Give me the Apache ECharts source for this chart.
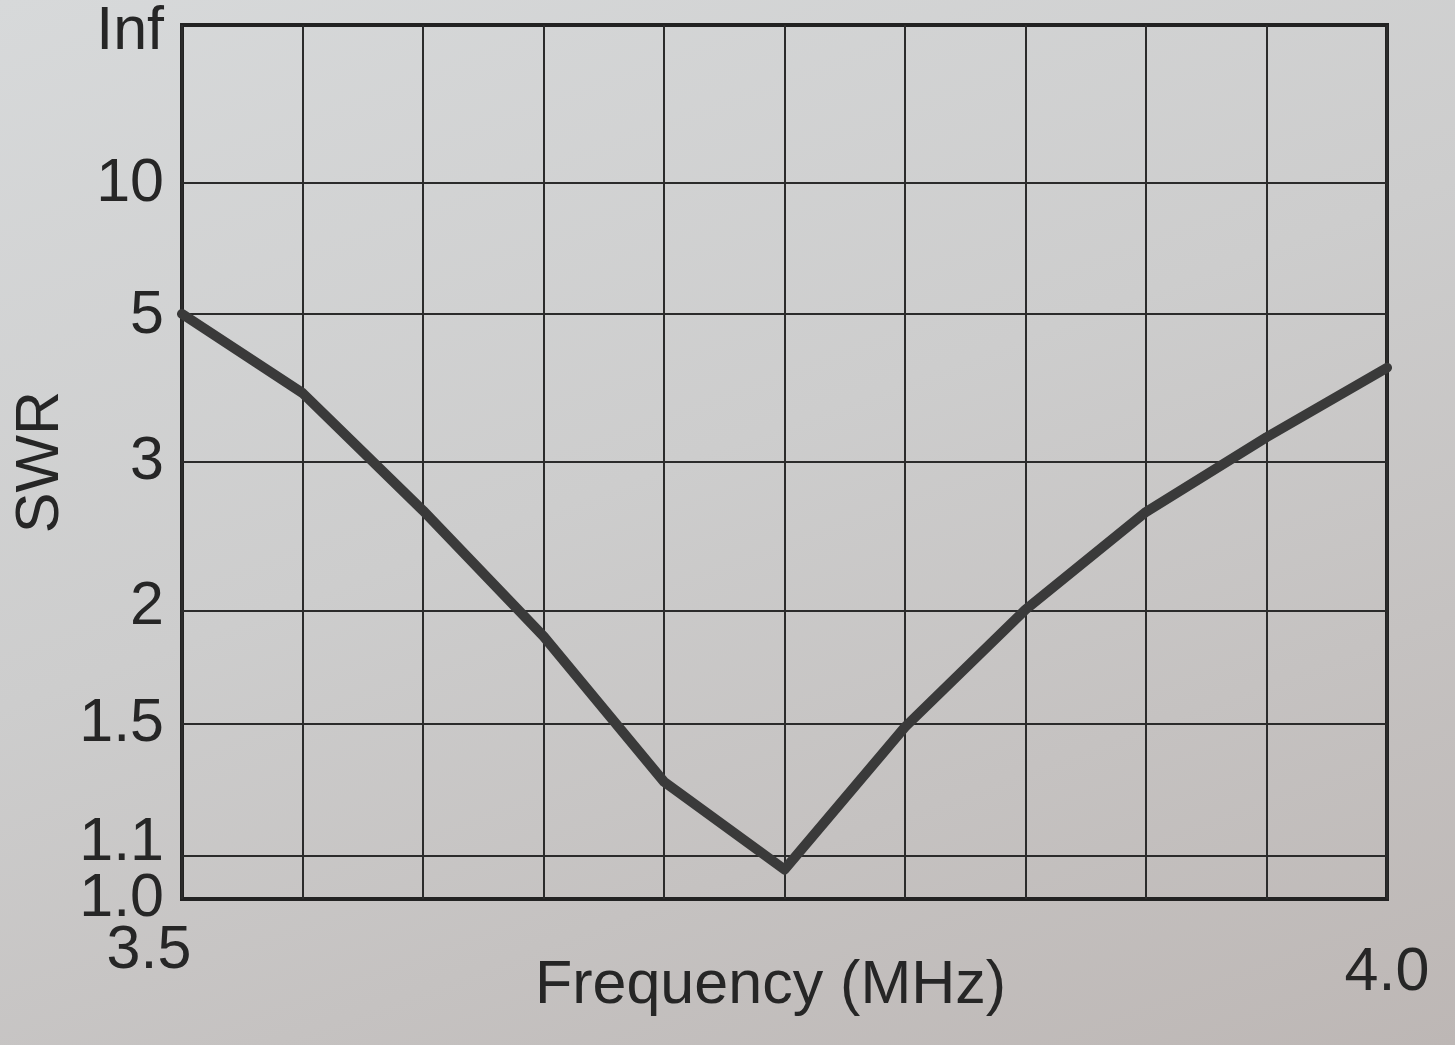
<!DOCTYPE html>
<html>
<head>
<meta charset="utf-8">
<script src="https://cdn.jsdelivr.net/npm/echarts@6/dist/echarts.min.js"></script>
<style>
html,body{margin:0;padding:0;}
body{width:1455px;height:1045px;background:linear-gradient(160deg,#d7d9da 0%,#cdcdcd 45%,#bdb7b5 100%);}
#chart{width:1455px;height:1045px;}
</style>
</head>
<body>
<div id="chart"></div>
<script>
// Frequency (MHz) sample points
const freqs = [3.5, 3.55, 3.6, 3.65, 3.7, 3.75, 3.8, 3.85, 3.9, 3.95, 4.0];
// SWR values
const swrValues = [5.05, 3.75, 2.6, 1.86, 1.31, 1.07, 1.49, 1.99, 2.59, 3.24, 4.1];
// Y tick labels and their SWR values (axis is linear in reflection coefficient)
const yTickLabels = ['Inf', '10', '5', '3', '2', '1.5', '1.1', '1.0'];
const yTickSwr = [Infinity, 10, 5, 3, 2, 1.5, 1.1, 1.0];
// X tick labels shown
const xTickValues = [3.5, 4.0];
const xTickLabels = ['3.5', '4.0'];

function rho(s) { return s === Infinity ? 1 : (s - 1) / (s + 1); }

const yTickPos = yTickSwr.map(rho);
const labelMap = {};
yTickPos.forEach((p, i) => { labelMap[p.toFixed(5)] = yTickLabels[i]; });

const font = '"Liberation Sans", Arial, sans-serif';
const ink = '#262626';
const fs = 61;

function yFmt(v) {
  const t = labelMap[v.toFixed(5)] || '';
  if (t === 'Inf') return '{top|' + t + '}';
  if (t === '1.1') return '{up|' + t + '}';
  return t;
}
const yLabelBase = {
  showMinLabel: true, showMaxLabel: true, hideOverlap: false,
  fontFamily: font, fontSize: fs, color: ink, margin: 18,
  formatter: yFmt,
  rich: {
    top: { fontFamily: font, fontSize: fs, color: ink, padding: [14, 0, 0, 0] },
    up: { fontFamily: font, fontSize: fs, color: ink, padding: [0, 0, 28, 0] }
  }
};

const chart = echarts.init(document.getElementById('chart'));
chart.setOption({
  backgroundColor: 'transparent',
  animation: false,
  grid: {
    left: 182, right: 68, top: 25, bottom: 146,
    outerBoundsMode: 'none', containLabel: false,
    show: true, borderColor: '#222', borderWidth: 4, backgroundColor: 'transparent'
  },
  xAxis: {
    type: 'value', min: 3.5, max: 4.0, interval: 0.05,
    name: 'Frequency (MHz)', nameLocation: 'middle', nameGap: 57, nameMoveOverlap: false,
    nameTextStyle: { fontFamily: font, fontSize: fs, color: ink, padding: [0, 28, 0, 0] },
    axisLine: { show: false },
    axisTick: { show: false },
    splitLine: { show: true, lineStyle: { color: '#2b2b2b', width: 2 } },
    axisLabel: {
      customValues: xTickValues,
      showMinLabel: true, showMaxLabel: true, hideOverlap: false,
      fontFamily: font, fontSize: fs, color: ink, margin: 22,
      formatter: function (v) {
        const i = xTickValues.findIndex(t => Math.abs(t - v) < 1e-6);
        if (i === 0) return '{a|' + xTickLabels[0] + '}';
        if (i === 1) return '{b|' + xTickLabels[1] + '}';
        return '';
      },
      rich: {
        a: { fontFamily: font, fontSize: fs, color: ink, padding: [0, 66, 0, 0] },
        b: { fontFamily: font, fontSize: fs, color: ink, padding: [22, 0, 0, 0] }
      }
    }
  },
  yAxis: [
    {
      type: 'value', min: 0, max: 1, position: 'left',
      name: 'SWR', nameLocation: 'middle', nameGap: 110, nameRotate: 90, nameMoveOverlap: false,
      nameTextStyle: { fontFamily: font, fontSize: fs, color: ink },
      axisLine: { show: false },
      axisTick: { show: false },
      splitLine: { show: false },
      axisLabel: Object.assign({}, yLabelBase, { customValues: yTickPos.slice(0, yTickPos.length - 1) })
    },
    {
      type: 'value', min: 0, max: 1, position: 'left', offset: 0,
      axisLine: { show: false },
      axisTick: { show: false },
      splitLine: { show: false },
      axisLabel: Object.assign({}, yLabelBase, { customValues: yTickPos.slice(yTickPos.length - 1) })
    }
  ],
  series: [
    {
      type: 'line',
      data: [],
      silent: true,
      markLine: {
        silent: true, symbol: 'none', label: { show: false },
        lineStyle: { color: '#2b2b2b', width: 2, type: 'solid' },
        data: yTickPos.slice(1, yTickPos.length - 1).map(p => ({ yAxis: p }))
      }
    },
    {
      type: 'line',
      data: freqs.map((f, i) => [f, rho(swrValues[i])]),
      showSymbol: false, symbol: 'none',
      lineStyle: { color: '#3a3a3a', width: 10, cap: 'round', join: 'round' },
      z: 5
    }
  ]
});
</script>
</body>
</html>
